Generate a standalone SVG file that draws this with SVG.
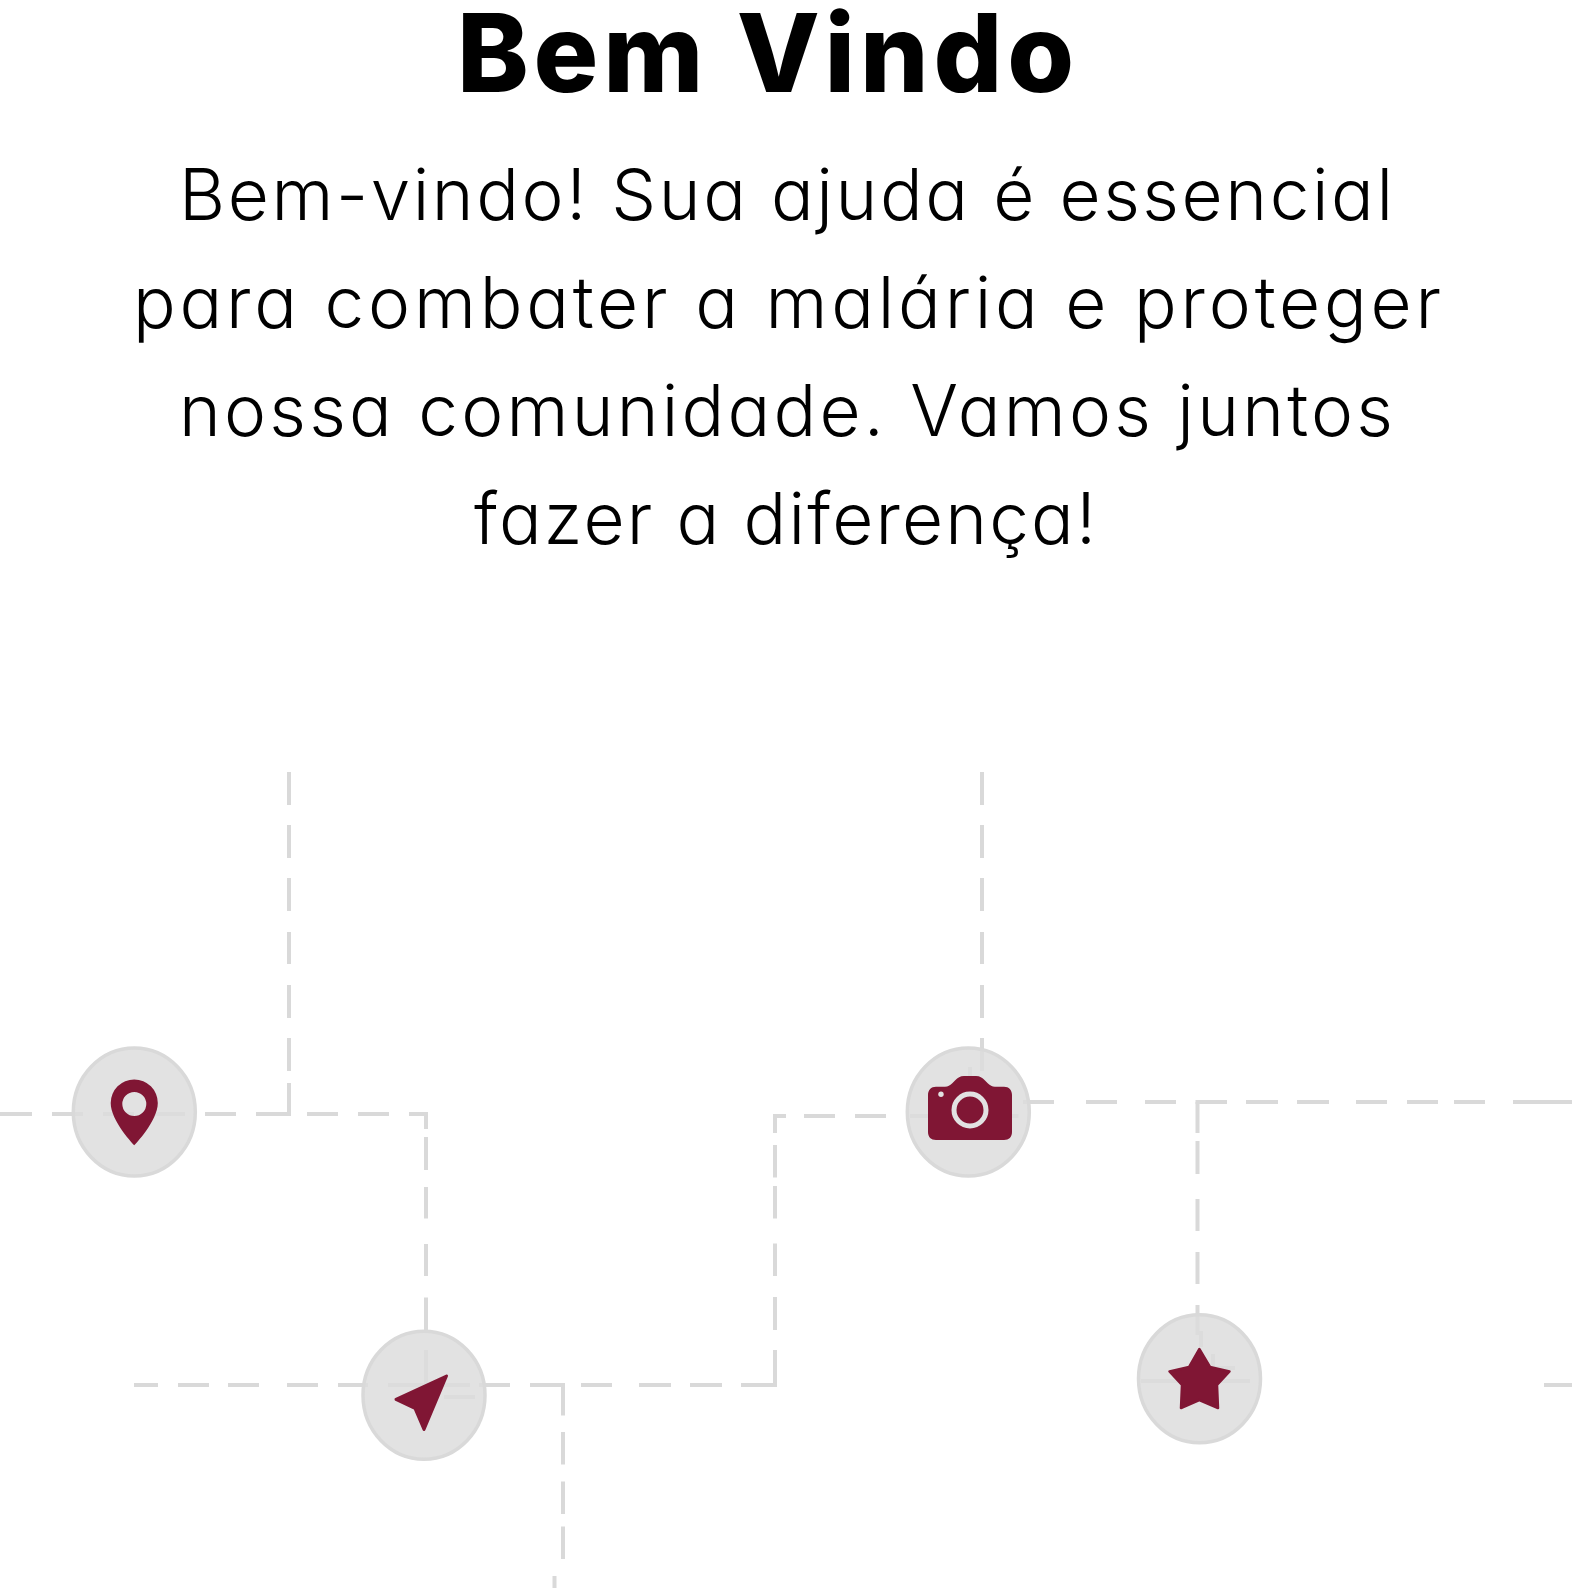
<svg xmlns="http://www.w3.org/2000/svg" width="1572" height="1588" viewBox="0 0 1572 1588">
<style>
.conn{fill:none;stroke:#d9d9d9;stroke-width:4}
.disc{fill:#dcdcdc;fill-opacity:.84;stroke:#d9d9d9;stroke-width:3.5}
.icon{fill:#801634}
.hole{fill:#e2e2e2}
text{fill:#000;font-family:Inter,"Noto Sans","Liberation Sans",sans-serif;font-feature-settings:"cv11"}
.title{font-size:108px;font-weight:800}
.body{font-size:71px;font-weight:300}
</style>
<rect width="1572" height="1588" fill="#fff"/>
<g id="heading">
<text class="title" x="457" y="92" textLength="617" lengthAdjust="spacing">Bem Vindo</text>
<text class="body" x="179" y="220" textLength="1214" lengthAdjust="spacing">Bem-vindo! Sua ajuda é essencial</text>
<text class="body" x="133" y="328" textLength="1308" lengthAdjust="spacing">para combater a malária e proteger</text>
<text class="body" x="179" y="436" textLength="1214" lengthAdjust="spacing">nossa comunidade. Vamos juntos</text>
<text class="body" x="474" y="544" textLength="622" lengthAdjust="spacing">fazer a diferença!</text>
</g>
<g id="connectors">
<path class="conn" d="M0 1114H32M52 1114H83M103 1114H134M155 1114H185M205 1114H236M256 1114H291"/>
<path class="conn" d="M289 772V805M289 825V858M289 878V911M289 932V964M289 985V1018M289 1038V1071M289 1083V1114"/>
<path class="conn" d="M307 1114H338M358 1114H389M409 1114H426V1129M426 1137V1170M426 1187V1218.5M426 1244V1276M426 1297.5V1330.5M426 1350V1384"/>
<path class="conn" d="M134 1385H158M178 1385H209M228 1385H259M287 1385H318M338 1385H368M388 1385H470M479 1385H510M444 1397H475"/>
<path class="conn" d="M530 1385H563V1415.6M563 1432V1464.6M563 1481.6V1514M563 1526.5V1559M554.5 1576V1588"/>
<path class="conn" d="M581 1385H612M639 1385H671M690 1385H722M741 1385H775V1350M775 1330V1297M775 1276V1243.5M775 1218.5V1186M775 1177.6V1145M775 1133V1116H786M804 1116H835M855 1116H886M910 1116H941M990 1116H1018.5"/>
<path class="conn" d="M982 772V805M982 825V858M982 878V911M982 932V964M982 985V1018M982 1038V1071M970 1067V1100"/>
<path class="conn" d="M1023 1102H1054M1086 1102H1117M1145 1102H1176M1195.5 1102H1227M1246 1102H1278M1297 1102H1329M1356 1102H1387M1407 1102H1438M1454 1102H1485M1513 1102H1572"/>
<path class="conn" d="M1197.5 1102V1133M1197.5 1141V1174M1197.5 1199V1231M1197.5 1252V1284M1197.5 1305V1333H1201V1347M1213 1354V1368H1235M1141 1381H1250M1544 1385H1572"/>
</g>
<g id="node-pin">
<ellipse class="disc" cx="134.3" cy="1112" rx="61" ry="64"/>
<path class="icon" fill-rule="evenodd" d="M134.3 1145.3C134.3 1145.3 110.7 1121 110.7 1103A23.5 23.5 0 0 1 157.8 1103C157.8 1121 134.3 1145.3 134.3 1145.3ZM134.3 1092A12 12 0 1 0 134.3 1116A12 12 0 1 0 134.3 1092Z"/>
</g>
<g id="node-arrow">
<ellipse class="disc" cx="424" cy="1395.3" rx="61" ry="64"/>
<path class="icon" stroke="#801634" stroke-width="3" stroke-linejoin="round" d="M446.5 1376L396 1399.3L415 1408.5L424 1429.5Z"/>
</g>
<g id="node-camera">
<ellipse class="disc" cx="968.3" cy="1112" rx="61" ry="64"/>
<path class="icon" d="M936 1086.7H945C948 1086.7 950 1085.5 952 1083.5L955 1080.5C958 1077.5 960 1076 964 1076H976C980 1076 982 1077.5 985 1080.5L988 1083.5C990 1085.5 992 1086.7 995 1086.7H1004C1009 1086.7 1012 1090 1012 1095V1132C1012 1137 1009 1140 1004 1140H936C931 1140 928 1137 928 1132V1095C928 1090 931 1086.7 936 1086.7Z"/>
<circle cx="970" cy="1110" r="16" fill="none" stroke="#e2e2e2" stroke-width="5"/>
<circle class="hole" cx="941" cy="1094.3" r="2.7"/>
</g>
<g id="node-star">
<ellipse class="disc" cx="1199.5" cy="1378.7" rx="61" ry="64"/>
<path class="icon" stroke="#801634" stroke-width="2.5" stroke-linejoin="round" d="M1199.3 1349L1210 1367L1229.5 1371.5L1217 1385L1218 1408L1199.3 1400L1181 1408L1182 1385L1169.5 1371.5L1189 1367Z"/>
</g>
</svg>
